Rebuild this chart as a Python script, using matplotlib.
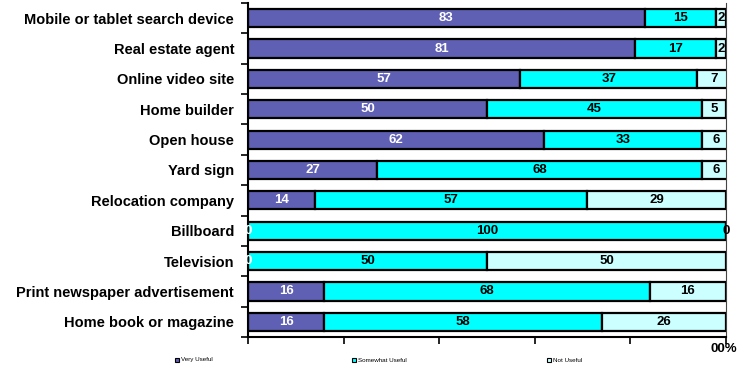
import numpy as np
import matplotlib.pyplot as plt
from matplotlib.patches import Rectangle

plt.rcParams['font.family'] = ['Liberation Sans', 'DejaVu Sans']

categories = [
    "Mobile or tablet search device",
    "Real estate agent",
    "Online video site",
    "Home builder",
    "Open house",
    "Yard sign",
    "Relocation company",
    "Billboard",
    "Television",
    "Print newspaper advertisement",
    "Home book or magazine",
]
very_useful = [83, 81, 57, 50, 62, 27, 14, 0, 0, 16, 16]
somewhat_useful = [15, 17, 37, 45, 33, 68, 57, 100, 50, 68, 58]
not_useful = [2, 2, 7, 5, 6, 6, 29, 0, 50, 16, 26]
series_names = ["Very Useful", "Somewhat Useful", "Not Useful"]
colors = ["#5f5fb4", "#00ffff", "#ccffff"]
text_colors = ["white", "black", "black"]

fig = plt.figure(figsize=(7.56, 3.69), dpi=100)
ax = fig.add_axes([248 / 756, 1 - 337 / 369, 478 / 756, 334 / 369])

y = np.arange(len(categories))
left = np.zeros(len(categories))
for vals, name, col, tcol in zip([very_useful, somewhat_useful, not_useful],
                                 series_names, colors, text_colors):
    vals = np.array(vals, dtype=float)
    ax.barh(y, vals, left=left, height=0.6, color=col,
            edgecolor="black", linewidth=1.6, label=name)
    for yi, l, v in zip(y, left, vals):
        ax.text(l + v / 2, yi, f"{int(v)}", ha="center", va="center",
                color=tcol, fontsize=9.5, fontweight="bold", clip_on=False)
    left += vals

ax.set_xlim(0, 100)
ax.set_ylim(len(categories) - 0.5, -0.5)
ax.set_yticks(y)
ax.set_yticklabels(categories, fontsize=10.5, fontweight="bold")
ax.tick_params(axis="y", length=0, pad=10)
ax.set_yticks(np.arange(-0.5, len(categories), 1), minor=True)
ax.tick_params(axis="y", which="minor", length=5, width=1.2, direction="out")
ax.set_xticks([0, 20, 40, 60, 80, 100])
ax.set_xticklabels([])
ax.tick_params(axis="x", length=5, width=1.2, direction="out")
ax.spines["top"].set_visible(False)
ax.spines["left"].set_linewidth(1.5)
ax.spines["bottom"].set_linewidth(1.5)
ax.spines["right"].set_linewidth(0.8)
ax.spines["right"].set_color("#444444")

fig.text(724 / 756, 1 - 349 / 369, "00%", ha="center", va="center",
         fontsize=9.5, fontweight="bold")

# tiny legend along the bottom
legend_x = [175, 352, 547]
for lx, name, col in zip(legend_x, series_names, colors):
    fig.patches.append(Rectangle((lx / 756, 1 - 362 / 369), 4 / 756, 4 / 369,
                                 transform=fig.transFigure, facecolor=col,
                                 edgecolor="black", linewidth=0.8))
    fig.text((lx + 6) / 756, 1 - 360 / 369, name, ha="left", va="center",
             fontsize=4.5)

fig.savefig("out.png", dpi=100)
